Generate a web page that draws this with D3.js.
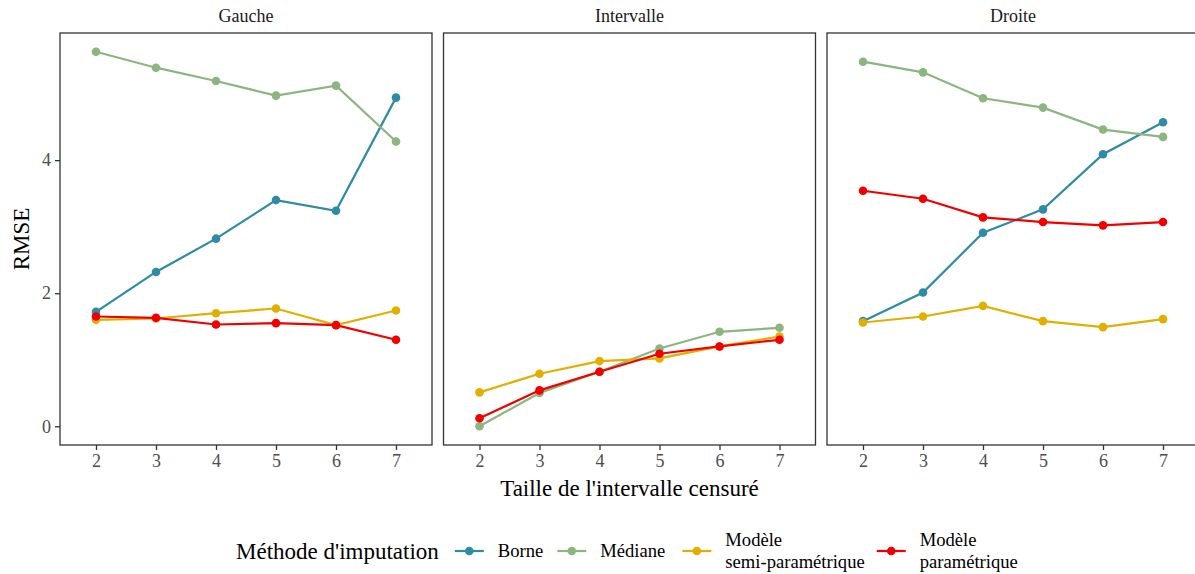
<!DOCTYPE html>
<html><head><meta charset="utf-8">
<script src="https://cdn.jsdelivr.net/npm/d3@7"></script>
<style>body{margin:0;background:#fff}svg{display:block}svg text{font-family:"Liberation Serif","Times New Roman",serif !important}</style>
</head><body><svg id="c" width="1195" height="574" style="font-family:'Liberation Serif',serif"></svg>
<script>
const sizes = ["2","3","4","5","6","7"];
const panels = ["Gauche","Intervalle","Droite"];
const methods = ["Borne","Médiane","Modèle semi-paramétrique","Modèle paramétrique"];
const methodLabels = [["Borne"],["Médiane"],["Modèle","semi-paramétrique"],["Modèle","paramétrique"]];
const colors = ["#2E8BA6","#8DB580","#E1AF00","#F20000"];

// RMSE values per panel, per method (null = absent)
const gaucheBorne   = [1.72,2.32,2.82,3.40,3.24,4.94];
const gaucheMediane = [5.63,5.39,5.19,4.97,5.12,4.28];
const gaucheSemi    = [1.60,1.62,1.70,1.77,1.52,1.74];
const gaucheParam   = [1.65,1.63,1.53,1.55,1.52,1.30];
const interBorne    = null;
const interMediane  = [0.00,0.50,0.82,1.17,1.42,1.48];
const interSemi     = [0.51,0.79,0.98,1.02,1.20,1.35];
const interParam    = [0.12,0.54,0.82,1.09,1.20,1.30];
const droiteBorne   = [1.58,2.01,2.91,3.26,4.09,4.57];
const droiteMediane = [5.48,5.32,4.93,4.79,4.46,4.35];
const droiteSemi    = [1.56,1.65,1.81,1.58,1.49,1.61];
const droiteParam   = [3.54,3.42,3.14,3.07,3.02,3.07];

const yTicks = [0,2,4];

const panelData = [
  [gaucheBorne,gaucheMediane,gaucheSemi,gaucheParam],
  [interBorne,interMediane,interSemi,interParam],
  [droiteBorne,droiteMediane,droiteSemi,droiteParam]
];

const FONT = "'Liberation Serif', 'Times New Roman', serif";
const svg = d3.select("#c");
const pLeft = 60, pTop = 33, pw = 372, ph = 412, gap = 11.5;
const allVals = panelData.flat().filter(a=>a).flat();
const ymin = d3.min(allVals), ymax = d3.max(allVals), ex = (ymax-ymin)*0.05;
const y = d3.scaleLinear().domain([ymin-ex, ymax+ex]).range([pTop+ph, pTop]);
const x = d3.scalePoint().domain(sizes).range([0,pw]).padding(0.6);
const tickCol = "#333333", labCol = "#4D4D4D";

panels.forEach((p,i)=>{
  const px = pLeft + i*(pw+gap);
  const g = svg.append("g").attr("transform",`translate(${px},0)`);
  g.append("text").attr("x",pw/2).attr("y",pTop-11).attr("text-anchor","middle")
    .style("font-family",FONT).attr("font-size",18).attr("fill","#1a1a1a").text(p);
  panelData[i].forEach((vals,m)=>{
    if(!vals) return;
    const pts = sizes.map((s,k)=>[x(s), y(vals[k])]);
    g.append("path").attr("d",d3.line()(pts)).attr("fill","none")
      .attr("stroke",colors[m]).attr("stroke-width",2.2);
    g.selectAll(null).data(pts).enter().append("circle")
      .attr("cx",d=>d[0]).attr("cy",d=>d[1]).attr("r",4.3).attr("fill",colors[m]);
  });
  g.append("rect").attr("x",0).attr("y",pTop).attr("width",pw).attr("height",ph)
    .attr("fill","none").attr("stroke",tickCol).attr("stroke-width",1.3);
  const xa = g.append("g").attr("transform",`translate(0,${pTop+ph})`)
    .call(d3.axisBottom(x).tickSizeOuter(0).tickSize(5).tickPadding(4));
  xa.attr("font-family",null);
  xa.select(".domain").remove();
  xa.selectAll("line").attr("stroke",tickCol).attr("stroke-width",1.3);
  xa.selectAll("text").attr("font-size",18).attr("fill",labCol).style("font-family",FONT);
  if(i===0){
    const ya = g.append("g").call(d3.axisLeft(y).tickValues(yTicks).tickFormat(d3.format("d")).tickSizeOuter(0).tickSize(5).tickPadding(4));
    ya.attr("font-family",null);
    ya.select(".domain").remove();
    ya.selectAll("line").attr("stroke",tickCol).attr("stroke-width",1.3);
    ya.selectAll("text").attr("font-size",18).attr("fill",labCol).style("font-family",FONT);
  }
});

const totalRight = pLeft + 3*pw + 2*gap;
const cx = (pLeft+totalRight)/2;
svg.append("text").attr("x",cx).attr("y",496).attr("text-anchor","middle")
  .style("font-family",FONT).attr("font-size",23).text("Taille de l'intervalle censuré");
svg.append("text").attr("transform",`translate(29,${pTop+ph/2}) rotate(-90)`)
  .style("font-family",FONT).attr("text-anchor","middle").attr("font-size",23).text("RMSE");

const lg = svg.append("g").attr("transform","translate(236,0)");
const ly = 551;
const title = lg.append("text").attr("x",0).attr("y",ly+8).style("font-family",FONT)
  .attr("font-size",23).text("Méthode d'imputation");
let cur = title.node().getComputedTextLength() + 16;
const after = [14,17,12,0];
methods.forEach((m,k)=>{
  const kx = cur;
  lg.append("line").attr("x1",kx).attr("x2",kx+29).attr("y1",ly).attr("y2",ly)
    .attr("stroke",colors[k]).attr("stroke-width",2.2);
  lg.append("circle").attr("cx",kx+14.5).attr("cy",ly).attr("r",4.3).attr("fill",colors[k]);
  const lines = methodLabels[k];
  const t = lg.append("text").attr("x",kx+43).style("font-family",FONT).attr("font-size",18.6);
  const n = lines.length;
  lines.forEach((s,j)=>{
    t.append("tspan").attr("x",kx+43).attr("y",ly+6 + (j-(n-1)/2)*22).text(s);
  });
  const w = t.node().getBBox().width;
  cur = kx + 43 + w + after[k];
});
</script></body></html>
